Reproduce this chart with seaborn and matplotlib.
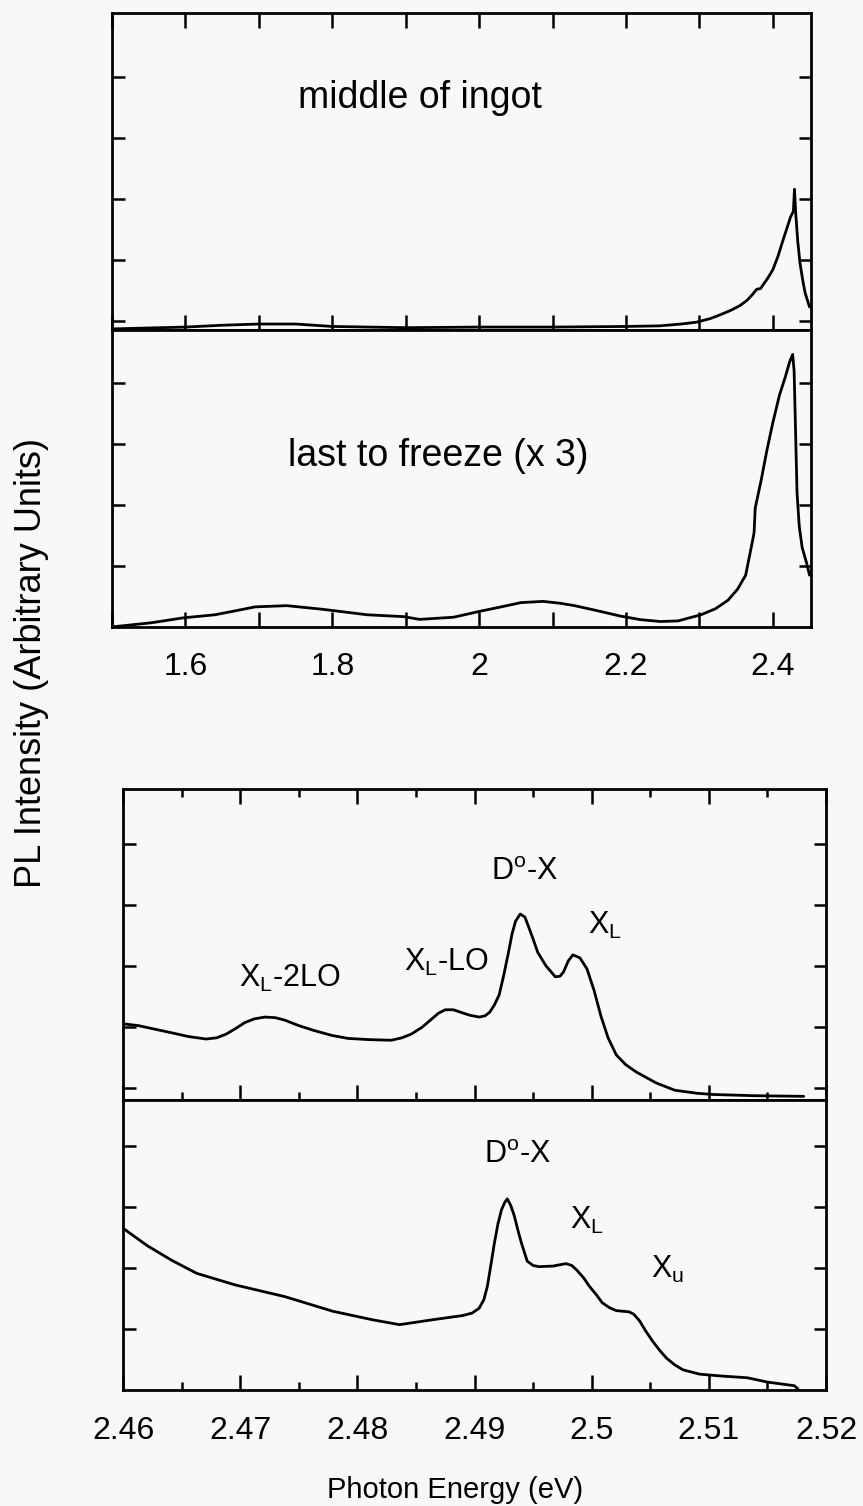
import numpy as np
import pandas as pd
import matplotlib
matplotlib.use("Agg")
import matplotlib.pyplot as plt
from matplotlib.ticker import MultipleLocator, FuncFormatter
import seaborn as sns

# --- panel (a): wide range spectra ---
a_mid_x = [1.500, 1.600, 1.650, 1.700, 1.750, 1.800, 1.900, 2.000, 2.100, 2.200,
           2.246, 2.275, 2.296, 2.315, 2.328, 2.342, 2.355, 2.365, 2.372, 2.378,
           2.383, 2.386, 2.393, 2.400, 2.407, 2.414, 2.420, 2.424, 2.428, 2.4295,
           2.431, 2.434, 2.437, 2.441, 2.444, 2.450]
a_mid_y = [-0.13, -0.10, -0.07, -0.05, -0.05, -0.09, -0.11, -0.10, -0.10, -0.09,
           -0.08, -0.05, -0.02, 0.04, 0.10, 0.17, 0.25, 0.34, 0.43, 0.52,
           0.53, 0.58, 0.70, 0.84, 1.06, 1.33, 1.55, 1.70, 1.80, 2.16,
           1.80, 1.30, 0.95, 0.65, 0.46, 0.23]

a_last_x = [1.499, 1.554, 1.597, 1.640, 1.670, 1.695, 1.738, 1.787, 1.848, 1.897,
            1.919, 1.965, 2.002, 2.030, 2.057, 2.087, 2.110, 2.130, 2.160, 2.192,
            2.220, 2.247, 2.271, 2.302, 2.322, 2.339, 2.352, 2.363, 2.373, 2.3745,
            2.376, 2.384, 2.392, 2.400, 2.409, 2.417, 2.423, 2.427, 2.429, 2.431,
            2.433, 2.436, 2.440, 2.446, 2.450]
a_last_y = [0.00, 0.07, 0.15, 0.20, 0.27, 0.33, 0.35, 0.29, 0.20, 0.17,
            0.125, 0.16, 0.26, 0.33, 0.40, 0.42, 0.39, 0.35, 0.27, 0.18,
            0.12, 0.09, 0.10, 0.20, 0.30, 0.44, 0.62, 0.85, 1.45, 1.55,
            1.95, 2.40, 2.90, 3.35, 3.80, 4.10, 4.35, 4.47, 4.20, 3.20,
            2.20, 1.65, 1.30, 1.05, 0.85]

# --- panel (b): band edge spectra ---
b_top_x = [2.4600, 2.4613, 2.4642, 2.4656, 2.4671, 2.4680, 2.4688, 2.4696, 2.4704, 2.4712,
           2.4721, 2.4730, 2.4738, 2.4750, 2.4763, 2.4778, 2.4792, 2.4810, 2.4829, 2.4838,
           2.4846, 2.4855, 2.4863, 2.4869, 2.4875, 2.4882, 2.4888, 2.4896, 2.4904, 2.4909,
           2.4913, 2.4917, 2.4921, 2.4925, 2.4929, 2.4932, 2.4935, 2.4939, 2.4943, 2.4946,
           2.4950, 2.4954, 2.4961, 2.4969, 2.4973, 2.4976, 2.4980, 2.4984, 2.4990, 2.4996,
           2.5002, 2.5008, 2.5014, 2.5021, 2.5029, 2.5038, 2.5055, 2.5071, 2.5090, 2.5104,
           2.5140, 2.5181]
b_top_y = [1.25, 1.22, 1.10, 1.04, 1.00, 1.02, 1.08, 1.17, 1.27, 1.33,
           1.36, 1.35, 1.31, 1.22, 1.14, 1.06, 1.01, 0.99, 0.98, 1.02,
           1.08, 1.19, 1.32, 1.42, 1.48, 1.48, 1.44, 1.39, 1.36, 1.38,
           1.44, 1.56, 1.72, 2.05, 2.42, 2.72, 2.93, 3.05, 3.00, 2.85,
           2.64, 2.42, 2.20, 2.02, 2.03, 2.10, 2.28, 2.38, 2.33, 2.15,
           1.80, 1.37, 1.02, 0.74, 0.58, 0.46, 0.28, 0.16, 0.11, 0.09,
           0.07, 0.06]

b_bot_x = [2.4600, 2.4621, 2.4642, 2.4663, 2.4696, 2.4738, 2.4779, 2.4813, 2.4836, 2.4864,
           2.4890, 2.4898, 2.4904, 2.4908, 2.4911, 2.4914, 2.4917, 2.4920, 2.4923, 2.4926,
           2.4928, 2.4931, 2.4934, 2.4937, 2.4940, 2.4945, 2.4950, 2.4955, 2.4967, 2.4978,
           2.4983, 2.4987, 2.4993, 2.4998, 2.5004, 2.5009, 2.5015, 2.5021, 2.5032, 2.5036,
           2.5041, 2.5046, 2.5052, 2.5058, 2.5064, 2.5071, 2.5078, 2.5092, 2.5110, 2.5133,
           2.5150, 2.5173, 2.5176]
b_bot_y = [2.65, 2.36, 2.12, 1.91, 1.72, 1.53, 1.29, 1.15, 1.07, 1.15,
           1.22, 1.26, 1.34, 1.48, 1.70, 2.05, 2.41, 2.72, 2.95, 3.08,
           3.13, 3.02, 2.85, 2.62, 2.41, 2.11, 2.04, 2.02, 2.03, 2.07,
           2.04, 1.97, 1.84, 1.70, 1.56, 1.43, 1.35, 1.30, 1.28, 1.24,
           1.13, 0.97, 0.80, 0.65, 0.52, 0.41, 0.33, 0.26, 0.23, 0.20,
           0.13, 0.07, 0.02]

a_ticks = [1.6, 1.8, 2.0, 2.2, 2.4]
b_ticks = [2.46, 2.47, 2.48, 2.49, 2.50, 2.51, 2.52]

sns.set_style("ticks")
plt.rcParams['font.family'] = ['Liberation Sans', 'DejaVu Sans']
plt.rcParams['mathtext.fontset'] = 'custom'
plt.rcParams['mathtext.rm'] = 'Liberation Sans'
plt.rcParams['mathtext.it'] = 'Liberation Sans'
plt.rcParams['text.color'] = 'black'
plt.rcParams['xtick.color'] = 'black'
plt.rcParams['ytick.color'] = 'black'

bg = '#f8f8f8'
W, H = 863, 1506
fig = plt.figure(figsize=(W / 100, H / 100), dpi=100, facecolor=bg)


def box(l, r, t, b):
    return [l / W, 1 - b / H, (r - l) / W, (b - t) / H]


ax1 = fig.add_axes(box(112, 811, 13, 330))
ax2 = fig.add_axes(box(112, 811, 330, 627))
ax3 = fig.add_axes(box(123, 826, 789, 1100))
ax4 = fig.add_axes(box(123, 826, 1100, 1390))

curves = [(ax1, a_mid_x, a_mid_y), (ax2, a_last_x, a_last_y),
          (ax3, b_top_x, b_top_y), (ax4, b_bot_x, b_bot_y)]
for ax, xs, ys in curves:
    df = pd.DataFrame({'E': xs, 'I': ys})
    sns.lineplot(data=df, x='E', y='I', ax=ax, color='black', lw=2.0,
                 estimator=None, sort=False)
    ax.set_facecolor(bg)
    ax.set_xlabel('')
    ax.set_ylabel('')
    for s in ax.spines.values():
        s.set_visible(True)
        s.set_linewidth(2.0)
        s.set_color('black')

fmt = FuncFormatter(lambda v, p: f"{v:g}")

for ax in (ax1, ax2):
    ax.set_xlim(1.5, 2.452)
    ax.xaxis.set_major_locator(MultipleLocator(0.2))
    ax.xaxis.set_minor_locator(MultipleLocator(0.1))
ax1.set_ylim(-0.148, 5.05)
ax1.set_yticks([0, 1, 2, 3, 4])
ax2.set_ylim(0, 4.87)
ax2.set_yticks([1, 2, 3, 4])

for ax in (ax3, ax4):
    ax.set_xlim(2.46, 2.52)
    ax.xaxis.set_major_locator(MultipleLocator(0.01))
    ax.xaxis.set_minor_locator(MultipleLocator(0.005))
ax3.set_ylim(0, 5.1)
ax3.set_yticks([0.2, 1.2, 2.2, 3.2, 4.2])
ax4.set_ylim(0, 4.75)
ax4.set_yticks([1, 2, 3, 4])

for ax, top in ((ax1, True), (ax2, False), (ax3, True), (ax4, False)):
    ax.tick_params(axis='both', which='both', direction='in', color='black',
                   width=1.8, left=True, right=True, top=top, bottom=True,
                   labelleft=False, labelbottom=not top)
    ax.tick_params(axis='y', which='major', length=9)
    ax.tick_params(axis='x', which='major', length=11)
    ax.tick_params(axis='x', which='minor', length=11 if ax in (ax1, ax2) else 6)
    ax.tick_params(axis='y', which='minor', left=False, right=False)

ax2.xaxis.set_major_formatter(fmt)
ax4.xaxis.set_major_formatter(fmt)
ax2.tick_params(axis='x', which='major', labelsize=23, pad=18)
ax4.tick_params(axis='x', which='major', labelsize=23, pad=19)
ax2.set_xticks(a_ticks)
ax4.set_xticks(b_ticks)

ax1.text(1.9195, 3.66, "middle of ingot", fontsize=27, ha='center', va='center')
ax2.text(1.944, 2.8, "last to freeze (x 3)", fontsize=27, ha='center', va='center')

lab = dict(fontsize=22, ha='center', va='center')
ax3.text(2.4943, 3.74, r"D$^{\mathrm{o}}$-X", **lab)
ax3.text(2.5011, 2.87, r"X$_{\mathrm{L}}$", **lab)
ax3.text(2.4876, 2.25, r"X$_{\mathrm{L}}$-LO", **lab)
ax3.text(2.4742, 2.0, r"X$_{\mathrm{L}}$-2LO", **lab)

ax4.text(2.4937, 3.85, r"D$^{\mathrm{o}}$-X", **lab)
ax4.text(2.4996, 2.77, r"X$_{\mathrm{L}}$", **lab)
ax4.text(2.5065, 1.97, r"X$_{\mathrm{u}}$", **lab)

fig.text(32 / W, 1 - 663 / H, "PL Intensity (Arbitrary Units)", rotation=90,
         fontsize=26, ha='center', va='center')
fig.text(455 / W, 1 - 1490 / H, "Photon Energy (eV)", fontsize=21,
         ha='center', va='center')

fig.savefig("out.png", dpi=100, facecolor=bg)
